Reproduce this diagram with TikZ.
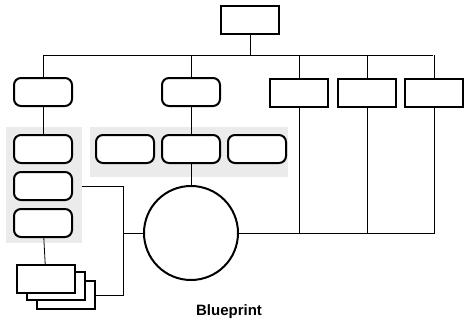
\documentclass[tikz,border=0pt]{standalone}
\usepackage{fontspec}
\setmainfont{Liberation Sans}
\begin{document}
\begin{tikzpicture}[x=1pt,y=-1pt,
  panel/.style={fill=black!8,draw=none,inner sep=0pt},
  rbox/.style={draw,line width=2pt,rounded corners=7pt,fill=white,minimum width=58pt,minimum height=28pt,inner sep=0pt},
  sbox/.style={draw,line width=2pt,fill=white,minimum width=58pt,minimum height=28pt,inner sep=0pt},
  conn/.style={line width=0.8pt}]
\useasboundingbox (0,0) rectangle (465,321);

% grey panels
\node[panel,minimum width=76pt,minimum height=116pt] (pl) at (44,185) {};
\node[panel,minimum width=198pt,minimum height=50pt] (pm) at (189,152) {};

\node[sbox] (top) at (250,20) {};

\node[rbox] (la) at (43,92) {};
\node[rbox] (ma) at (191,92) {};
\node[sbox] (ra) at (299,93) {};
\node[sbox] (rb) at (367,93) {};
\node[sbox] (rc) at (434,93) {};

\node[rbox] (lt) at (43,149) {};
\node[rbox] (lm) at (43,186) {};
\node[rbox] (lb) at (43,223) {};

\node[rbox] (m1) at (125,149) {};
\node[rbox] (m2) at (191,149) {};
\node[rbox] (m3) at (257,149) {};

\node[draw,circle,line width=2pt,minimum size=94pt,inner sep=0pt] (circ) at (191,233) {};

% document stack
\node[sbox] (d3) at (66,295) {};
\node[sbox] (d2) at (56,286) {};
\node[sbox] (d1) at (46,279) {};

\coordinate (busL) at (43,55);
\coordinate (busR) at (433,55);
\coordinate (jx) at (123,233);

\draw[conn] (busL) -- (busR);
\draw[conn] (top) -- (top |- busL);
\draw[conn] (busL) -- (la);
\draw[conn] (ma |- busL) -- (ma);
\draw[conn] (ra |- busL) -- (ra);
\draw[conn] (rb |- busL) -- (rb);
\draw[conn] (rc |- busL) -- (rc);

\draw[conn] (la) -- (lt);
\draw[conn] (ma) -- (m2);
\draw[conn] (m2) -- (circ);
\draw[conn] (lb) -- (d1);

\draw[conn] (circ) -- (rc |- circ) -- (rc);
\draw[conn] (ra |- circ) -- (ra);
\draw[conn] (rb |- circ) -- (rb);

\draw[conn] (pl.east |- lm) -| (jx |- d3.east) -- (d3.east);
\draw[conn] (jx) -- (circ.west);

\node[font=\bfseries\fontsize{15}{17}\selectfont,anchor=south,inner sep=1pt] (title) at (229,320) {Blueprint};
\end{tikzpicture}
\end{document}
